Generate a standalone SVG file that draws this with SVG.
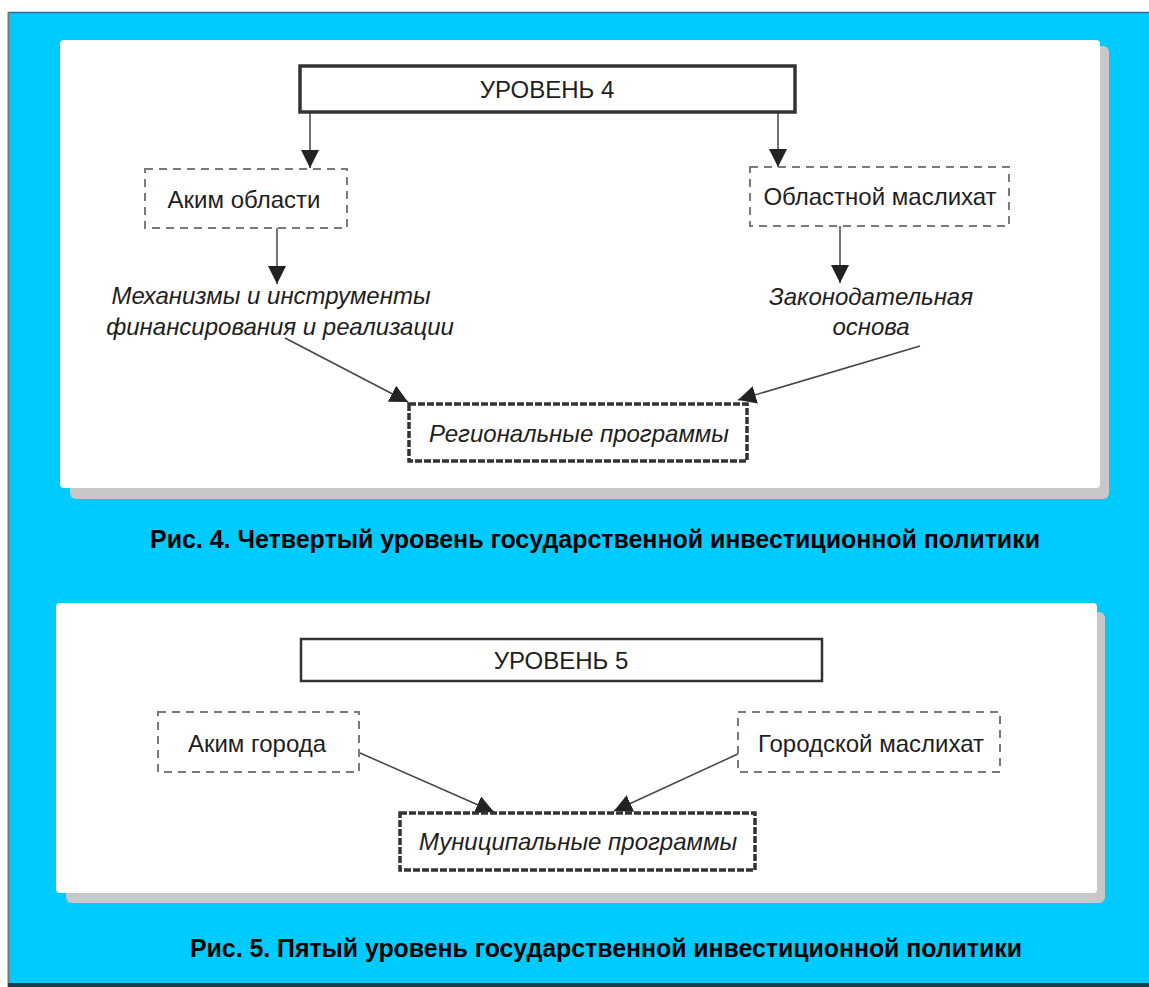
<svg xmlns="http://www.w3.org/2000/svg" width="1149" height="987" viewBox="0 0 1149 987">
<style>
.t{font-family:"Liberation Sans",Arial,sans-serif;font-size:24px;fill:#1e1e1e}
.i{font-style:italic}
.cap{font-family:"Liberation Sans",Arial,sans-serif;font-size:26px;font-weight:bold;fill:#000}
.lvl{fill:#fff;stroke:#333;stroke-width:3.5}
.dash{fill:#fff;stroke:#7a7a7a;stroke-width:2;stroke-dasharray:8,6}
.prog{fill:#fff;stroke:#333;stroke-width:3.5;stroke-dasharray:7,2}
.ln{stroke:#444;stroke-width:1.5;fill:none}
</style>
<defs>
<marker id="ah" viewBox="0 0 10 10" refX="10" refY="5" markerWidth="12" markerHeight="12" markerUnits="userSpaceOnUse" orient="auto">
<path d="M0,0 L10,5 L0,10 z" fill="#222"/>
</marker>
<marker id="ahb" viewBox="0 0 10 10" refX="10" refY="5" markerWidth="18" markerHeight="18" markerUnits="userSpaceOnUse" orient="auto">
<path d="M0,0 L10,5 L0,10 z" fill="#222"/>
</marker>
</defs>
<rect x="0" y="0" width="1149" height="987" fill="#fff"/>
<rect x="8" y="12" width="1141" height="975" fill="#00cbfe"/>
<line x1="8" y1="12.5" x2="1149" y2="12.5" stroke="#2a6e9a" stroke-width="1.5"/>
<line x1="8.5" y1="12" x2="8.5" y2="987" stroke="#777" stroke-width="2"/>
<rect x="8" y="983" width="1141" height="4" fill="#1d3c4c"/>

<g id="panel1">
<rect x="70" y="46" width="1039" height="453" rx="6" fill="#c8c8c8"/>
<rect x="60" y="40" width="1040" height="448" rx="4" fill="#fff"/>
</g>
<g id="panel2">
<rect x="66" y="612" width="1039" height="291" rx="6" fill="#c8c8c8"/>
<rect x="56" y="603" width="1041" height="290" rx="4" fill="#fff"/>
</g>

<g id="connectors">
<line class="ln" x1="310" y1="112" x2="310" y2="168" marker-end="url(#ahb)"/>
<line class="ln" x1="778" y1="112" x2="778" y2="167" marker-end="url(#ahb)"/>
<line class="ln" x1="277" y1="228" x2="277" y2="284" marker-end="url(#ahb)"/>
<line class="ln" x1="840" y1="226" x2="840" y2="283" marker-end="url(#ahb)"/>
<line class="ln" x1="285" y1="338" x2="408" y2="402" marker-end="url(#ahb)"/>
<line class="ln" x1="920" y1="346" x2="738" y2="400" marker-end="url(#ahb)"/>
<line class="ln" x1="360" y1="753" x2="494" y2="812" marker-end="url(#ahb)"/>
<line class="ln" x1="740" y1="753" x2="614" y2="811" marker-end="url(#ahb)"/>
</g>

<g id="level4">
<rect class="lvl" x="300" y="66" width="495" height="46"/>
<text class="t" x="547" y="98" text-anchor="middle">УРОВЕНЬ 4</text>
</g>
<g id="akim-oblasti">
<rect class="dash" x="145" y="169" width="202" height="59"/>
<text class="t" x="244" y="208" text-anchor="middle">Аким области</text>
</g>
<g id="oblastnoy-maslikhat">
<rect class="dash" x="750" y="167" width="259" height="59"/>
<text class="t" x="880" y="205" text-anchor="middle">Областной маслихат</text>
</g>
<g id="mekhanizmy">
<text class="t i" x="271" y="304" text-anchor="middle">Механизмы и инструменты</text>
<text class="t i" x="280" y="335" text-anchor="middle">финансирования и реализации</text>
</g>
<g id="zakonodatelnaya">
<text class="t i" x="871" y="305" text-anchor="middle">Законодательная</text>
<text class="t i" x="871" y="335" text-anchor="middle">основа</text>
</g>
<g id="regionalnye">
<rect class="prog" x="409" y="404" width="338" height="57"/>
<text class="t i" x="579" y="442" text-anchor="middle">Региональные программы</text>
</g>
<text class="cap" x="150" y="548" textLength="890" lengthAdjust="spacingAndGlyphs">Рис. 4. Четвертый уровень государственной инвестиционной политики</text>

<g id="level5">
<rect class="lvl" x="301" y="639" width="521" height="42" style="stroke-width:2.5"/>
<text class="t" x="561" y="669" text-anchor="middle">УРОВЕНЬ 5</text>
</g>
<g id="akim-goroda">
<rect class="dash" x="158" y="712" width="201" height="60"/>
<text class="t" x="257" y="752" text-anchor="middle">Аким города</text>
</g>
<g id="gorodskoy-maslikhat">
<rect class="dash" x="738" y="712" width="262" height="60"/>
<text class="t" x="871" y="752" text-anchor="middle">Городской маслихат</text>
</g>
<g id="municipalnye">
<rect class="prog" x="400" y="813" width="355" height="57"/>
<text class="t i" x="578" y="850" text-anchor="middle">Муниципальные программы</text>
</g>
<text class="cap" x="190" y="957" textLength="832" lengthAdjust="spacingAndGlyphs">Рис. 5. Пятый уровень государственной инвестиционной политики</text>
</svg>
